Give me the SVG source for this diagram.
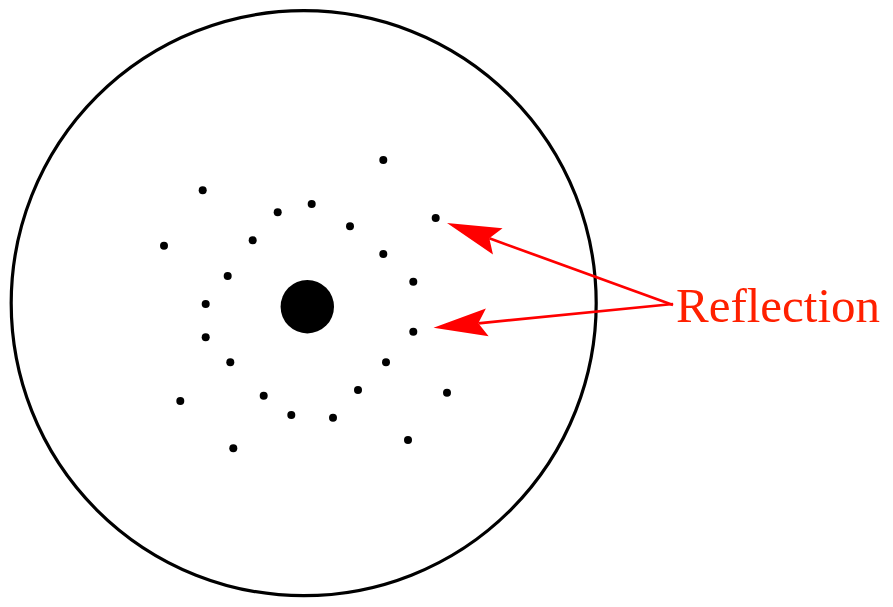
<svg xmlns="http://www.w3.org/2000/svg" width="893" height="607" viewBox="0 0 893 607">
<style>
.outline{fill:none;stroke:#000;stroke-width:3.2}
.dot{fill:#000}
.conn{fill:none;stroke:#ff0000;stroke-width:2.7;marker-end:url(#head)}
.label{font-family:"Liberation Serif","Times New Roman",serif;font-size:49px;fill:#ff2000}
</style>
<defs>
<marker id="head" markerUnits="userSpaceOnUse" markerWidth="60" markerHeight="40" viewBox="-10 -15 60 30" refX="0" refY="0" orient="auto" overflow="visible">
<path d="M45,0 L-9,-14 L0,0 L-9,14 Z" fill="#ff0000"/>
</marker>
</defs>
<rect width="893" height="607" fill="#fff"/>
<g id="disc">
<circle class="outline" cx="303.7" cy="303.2" r="292.5"/>
</g>
<g id="center">
<circle class="dot" cx="307.3" cy="306.7" r="26.7"/>
</g>
<g id="spots">
<circle class="dot" cx="383.3" cy="160" r="4"/>
<circle class="dot" cx="202.7" cy="190.3" r="4"/>
<circle class="dot" cx="311.7" cy="204" r="4"/>
<circle class="dot" cx="277.7" cy="212.3" r="4"/>
<circle class="dot" cx="435.7" cy="218" r="4"/>
<circle class="dot" cx="350" cy="226.3" r="4"/>
<circle class="dot" cx="252.7" cy="240.3" r="4"/>
<circle class="dot" cx="164" cy="245.7" r="4"/>
<circle class="dot" cx="383.3" cy="254" r="4"/>
<circle class="dot" cx="227.7" cy="276" r="4"/>
<circle class="dot" cx="413.3" cy="281.7" r="4"/>
<circle class="dot" cx="205.7" cy="304" r="4"/>
<circle class="dot" cx="205.7" cy="337.3" r="4"/>
<circle class="dot" cx="413.3" cy="331.7" r="4"/>
<circle class="dot" cx="230.3" cy="362.3" r="4"/>
<circle class="dot" cx="386" cy="362.3" r="4"/>
<circle class="dot" cx="358" cy="390" r="4"/>
<circle class="dot" cx="447" cy="392.7" r="4"/>
<circle class="dot" cx="263.7" cy="395.7" r="4"/>
<circle class="dot" cx="180.3" cy="401" r="4"/>
<circle class="dot" cx="291.3" cy="415" r="4"/>
<circle class="dot" cx="333" cy="417.7" r="4"/>
<circle class="dot" cx="408" cy="440" r="4"/>
<circle class="dot" cx="233.3" cy="448.3" r="4"/>
</g>
<g id="connectors">
<path class="conn" d="M673,305 L489.3,238.3"/>
<path class="conn" d="M673,304 L478.3,323.3"/>
</g>
<g id="label-reflection">
<text class="label" x="676" y="321.7">Reflection</text>
</g>
</svg>
